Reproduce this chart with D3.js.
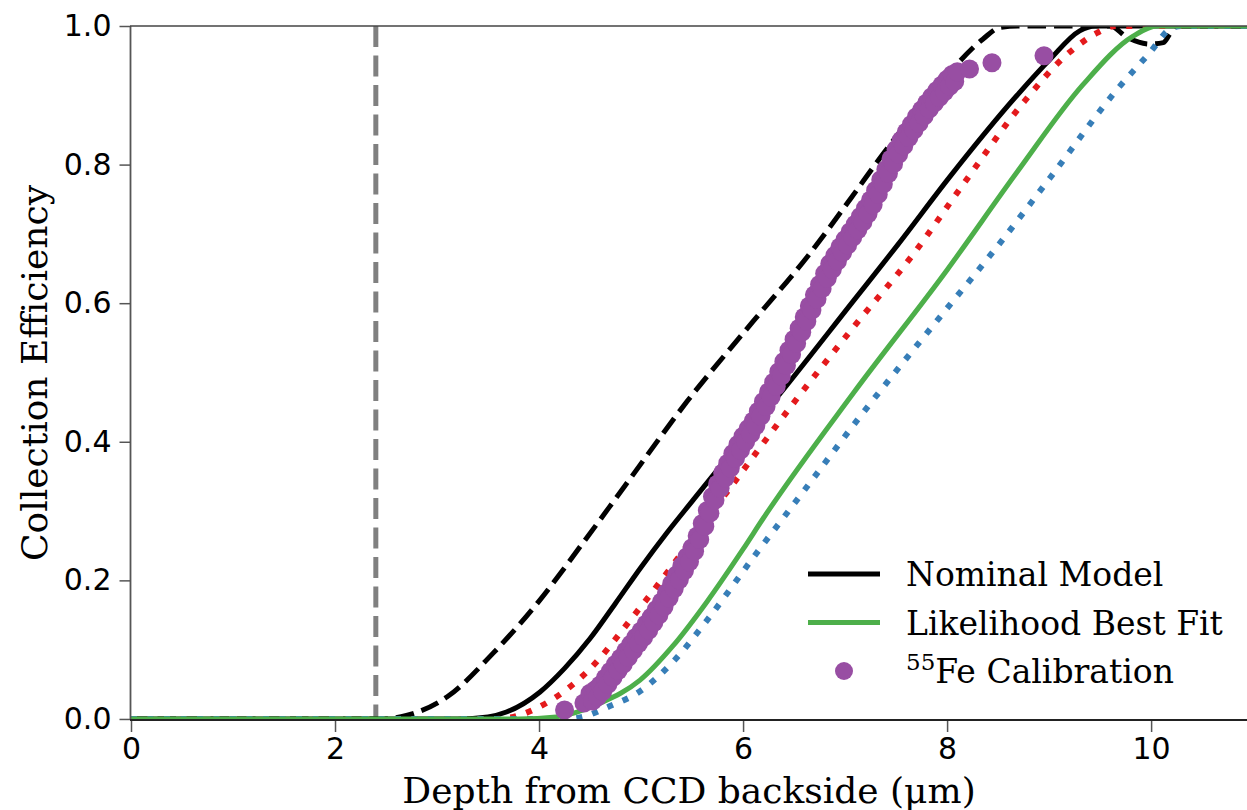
<!DOCTYPE html>
<html>
<head>
<meta charset="utf-8">
<script src="https://cdnjs.cloudflare.com/ajax/libs/d3/7.8.5/d3.min.js"></script>
<style>
  body { margin: 0; background: #fff; }
  svg { display: block; }
</style>
</head>
<body>
<script>
// depth (um) vs collection efficiency
var nominalModel = [
  [0, 0], [3.2, 0], [3.5, 0.003], [3.68, 0.01], [4.01, 0.039], [4.25, 0.073],
  [4.5, 0.116], [4.75, 0.167], [5.0, 0.219], [5.25, 0.268], [5.5, 0.314],
  [5.9, 0.387], [6.36, 0.469], [7.08, 0.603], [7.51, 0.683], [8.03, 0.783],
  [8.68, 0.899], [9.01, 0.952], [9.3, 0.993], [9.45, 1.0], [10.94, 1.0]
];
var nominalDashed = [
  [0, 0], [2.45, 0], [2.7, 0.005], [3.1, 0.032], [3.55, 0.095], [4.0, 0.17],
  [4.4, 0.248], [4.83, 0.334], [5.45, 0.458], [6.1, 0.574], [6.63, 0.667],
  [7.05, 0.75], [7.37, 0.815], [7.93, 0.917], [8.35, 0.981], [8.52, 0.998],
  [8.7, 1.0], [9.6, 1.0], [9.76, 0.984], [9.99, 0.974], [10.12, 0.976],
  [10.19, 0.99], [10.25, 1.0], [10.94, 1.0]
];
var redDotted = [
  [0, 0], [3.55, 0], [3.75, 0.003], [3.94, 0.013], [4.47, 0.068], [4.96, 0.155],
  [5.84, 0.327], [6.49, 0.455], [7.08, 0.565], [7.67, 0.671], [8.16, 0.772],
  [8.75, 0.89], [9.2, 0.962], [9.47, 0.99], [9.65, 1.0], [10.94, 1.0]
];
var bestFit = [
  [0, 0], [3.8, 0], [4.17, 0.003], [4.6, 0.023], [4.99, 0.056], [5.31, 0.105],
  [5.65, 0.17], [6.0, 0.245], [6.2, 0.29], [7.08, 0.47], [8.0, 0.648],
  [8.69, 0.79], [9.33, 0.915], [9.82, 0.985], [10.06, 1.0], [10.94, 1.0]
];
var blueDotted = [
  [0, 0], [4.3, 0], [4.43, 0.003], [4.67, 0.017], [4.99, 0.04], [5.31, 0.082],
  [5.65, 0.143], [6.1, 0.233], [6.58, 0.326], [7.15, 0.437], [7.93, 0.58],
  [8.45, 0.674], [9.01, 0.781], [9.67, 0.909], [9.99, 0.962], [10.19, 0.996],
  [10.3, 1.0], [10.94, 1.0]
];
var feCalibration = [
  [4.25, 0.013], [4.44, 0.023],
  [4.500, 0.037], [4.525, 0.026], [4.550, 0.042], [4.575, 0.032], [4.600, 0.049],
  [4.625, 0.040], [4.650, 0.059], [4.675, 0.050], [4.700, 0.069], [4.725, 0.060],
  [4.750, 0.079], [4.775, 0.070], [4.800, 0.088], [4.825, 0.079], [4.850, 0.098],
  [4.875, 0.089], [4.900, 0.108], [4.925, 0.099], [4.950, 0.118], [4.975, 0.109],
  [5.000, 0.127], [5.025, 0.118], [5.050, 0.137], [5.075, 0.128], [5.100, 0.147],
  [5.125, 0.139], [5.150, 0.158], [5.175, 0.150], [5.200, 0.169], [5.225, 0.162],
  [5.250, 0.182], [5.275, 0.175], [5.300, 0.195], [5.325, 0.188], [5.350, 0.208],
  [5.375, 0.201], [5.400, 0.221], [5.425, 0.214], [5.450, 0.234], [5.475, 0.227],
  [5.500, 0.247], [5.525, 0.242], [5.550, 0.264], [5.575, 0.259], [5.600, 0.282],
  [5.625, 0.278], [5.650, 0.301], [5.675, 0.297], [5.700, 0.321], [5.725, 0.316],
  [5.750, 0.339], [5.775, 0.333], [5.800, 0.355], [5.825, 0.348], [5.850, 0.369],
  [5.875, 0.362], [5.900, 0.383], [5.925, 0.376], [5.950, 0.396], [5.975, 0.388],
  [6.000, 0.408], [6.025, 0.400], [6.050, 0.419], [6.075, 0.411], [6.100, 0.430],
  [6.125, 0.423], [6.150, 0.444], [6.175, 0.437], [6.200, 0.458], [6.225, 0.451],
  [6.250, 0.472], [6.275, 0.465], [6.300, 0.486], [6.325, 0.480], [6.350, 0.501],
  [6.375, 0.495], [6.400, 0.516], [6.425, 0.510], [6.450, 0.532], [6.475, 0.526],
  [6.500, 0.548], [6.525, 0.542], [6.550, 0.564], [6.575, 0.558], [6.600, 0.580],
  [6.625, 0.574], [6.650, 0.596], [6.675, 0.590], [6.700, 0.612], [6.725, 0.606],
  [6.750, 0.627], [6.775, 0.621], [6.800, 0.643], [6.825, 0.636], [6.850, 0.657],
  [6.875, 0.649], [6.900, 0.669], [6.925, 0.661], [6.950, 0.681], [6.975, 0.673],
  [7.000, 0.692], [7.025, 0.684], [7.050, 0.703], [7.075, 0.695], [7.100, 0.714],
  [7.125, 0.706], [7.150, 0.725], [7.175, 0.717], [7.200, 0.737], [7.225, 0.729],
  [7.250, 0.749], [7.275, 0.742], [7.300, 0.763], [7.325, 0.757], [7.350, 0.778],
  [7.375, 0.772], [7.400, 0.793], [7.425, 0.787], [7.450, 0.808], [7.475, 0.801],
  [7.500, 0.822], [7.525, 0.815], [7.550, 0.835], [7.575, 0.827], [7.600, 0.847],
  [7.625, 0.839], [7.650, 0.858], [7.675, 0.850], [7.700, 0.869], [7.725, 0.860],
  [7.750, 0.879], [7.775, 0.870], [7.800, 0.889], [7.825, 0.880], [7.850, 0.898],
  [7.875, 0.889], [7.900, 0.907], [7.925, 0.897], [7.950, 0.915], [7.975, 0.905],
  [8.000, 0.923], [8.025, 0.913], [8.050, 0.930], [8.075, 0.920], [8.100, 0.934],
  [8.22, 0.938], [8.44, 0.947], [8.95, 0.957]
];
var surfaceDepth = 2.4;
var xTicks = [0, 2, 4, 6, 8, 10];
var yTicks = [0, 0.2, 0.4, 0.6, 0.8, 1.0];

var width = 1247, height = 810;
var plotLeft = 131, plotRight = 1247, plotTop = 26, plotBottom = 720;

var svg = d3.select("body").append("svg")
  .attr("width", width)
  .attr("height", height);

var x = d3.scaleLinear().domain([0, 10.94]).range([plotLeft, plotRight]);
var y = d3.scaleLinear().domain([-0.0015, 1]).range([plotBottom, plotTop]);

svg.append("clipPath").attr("id", "plot")
  .append("rect")
  .attr("x", plotLeft).attr("y", plotTop)
  .attr("width", plotRight - plotLeft).attr("height", plotBottom - plotTop);

var plot = svg.append("g").attr("clip-path", "url(#plot)");

// backside surface marker
plot.append("line")
  .attr("x1", x(surfaceDepth)).attr("x2", x(surfaceDepth))
  .attr("y1", plotTop).attr("y2", plotBottom)
  .attr("stroke", "#808080")
  .attr("stroke-width", 5)
  .attr("stroke-dasharray", "21,8.5");

var line = d3.line()
  .x(function(d) { return x(d[0]); })
  .y(function(d) { return y(d[1]); })
  .curve(d3.curveMonotoneX);

var curves = [
  { data: nominalDashed, color: "#000", w: 5, dash: "18.5,8" },
  { data: nominalModel, color: "#000", w: 5, dash: null },
  { data: redDotted, color: "#e41a1c", w: 6, dash: "6,10.5" },
  { data: blueDotted, color: "#377eb8", w: 6, dash: "6,10.5" },
  { data: bestFit, color: "#4daf4a", w: 5, dash: null }
];

plot.selectAll("path.curve")
  .data(curves)
  .enter().append("path")
  .attr("class", "curve")
  .attr("d", function(d) { return line(d.data); })
  .attr("fill", "none")
  .attr("stroke", function(d) { return d.color; })
  .attr("stroke-width", function(d) { return d.w; })
  .attr("stroke-dasharray", function(d) { return d.dash; });

plot.selectAll("circle")
  .data(feCalibration)
  .enter().append("circle")
  .attr("cx", function(d) { return x(d[0]); })
  .attr("cy", function(d) { return y(d[1]); })
  .attr("r", 9.5)
  .attr("fill", "#984ea3");

// axes
var xAxis = svg.append("g")
  .attr("transform", "translate(0," + plotBottom + ")")
  .call(d3.axisBottom(x).tickValues(xTicks).tickSize(12).tickPadding(6)
    .tickFormat(d3.format("d")));
var yAxis = svg.append("g")
  .attr("transform", "translate(" + (plotLeft - 0.5) + ",0)")
  .call(d3.axisLeft(y).tickValues(yTicks).tickSize(11).tickPadding(8)
    .tickFormat(d3.format(".1f")));

[xAxis, yAxis].forEach(function(a) {
  a.select(".domain").remove();
  a.selectAll(".tick line").attr("stroke", "#555").attr("stroke-width", 1.5);
  a.selectAll(".tick text")
    .attr("fill", "#000")
    .style("font-family", "DejaVu Sans")
    .style("font-size", "30px");
});

// spines
svg.append("line").attr("x1", plotLeft - 0.5).attr("x2", plotLeft - 0.5)
  .attr("y1", plotTop).attr("y2", plotBottom)
  .attr("stroke", "#555").attr("stroke-width", 1.8);
svg.append("line").attr("x1", plotLeft - 1).attr("x2", plotRight)
  .attr("y1", plotBottom).attr("y2", plotBottom)
  .attr("stroke", "#222").attr("stroke-width", 1.8);
svg.append("line").attr("x1", plotLeft - 1).attr("x2", plotRight)
  .attr("y1", plotTop).attr("y2", plotTop)
  .attr("stroke", "#444").attr("stroke-width", 1.5);

// axis labels
svg.append("text")
  .attr("x", (plotLeft + plotRight) / 2).attr("y", 803)
  .attr("text-anchor", "middle")
  .style("font-family", "DejaVu Serif").style("font-size", "36px")
  .text("Depth from CCD backside (\u03bcm)");
svg.append("text")
  .attr("transform", "translate(47," + ((plotTop + plotBottom) / 2) + ") rotate(-90)")
  .attr("text-anchor", "middle")
  .style("font-family", "DejaVu Serif").style("font-size", "36px")
  .text("Collection Efficiency");

// legend
var legend = svg.append("g").style("font-family", "DejaVu Serif").style("font-size", "33px");
var entries = [
  { label: "Nominal Model", color: "#000", kind: "line" },
  { label: "Likelihood Best Fit", color: "#4daf4a", kind: "line" },
  { label: "Fe Calibration", sup: "55", color: "#984ea3", kind: "dot" }
];
entries.forEach(function(e, i) {
  var cy = 574 + i * 48.5;
  if (e.kind === "line") {
    legend.append("line")
      .attr("x1", 808).attr("x2", 880).attr("y1", cy).attr("y2", cy)
      .attr("stroke", e.color).attr("stroke-width", 5);
  } else {
    legend.append("circle").attr("cx", 844).attr("cy", cy).attr("r", 9).attr("fill", e.color);
  }
  var t = legend.append("text").attr("x", 906).attr("y", cy + 12);
  if (e.sup) {
    t.append("tspan").attr("dy", -13).style("font-size", "23px").text(e.sup);
    t.append("tspan").attr("dy", 13).text(e.label);
  } else {
    t.text(e.label);
  }
});
</script>
</body>
</html>
